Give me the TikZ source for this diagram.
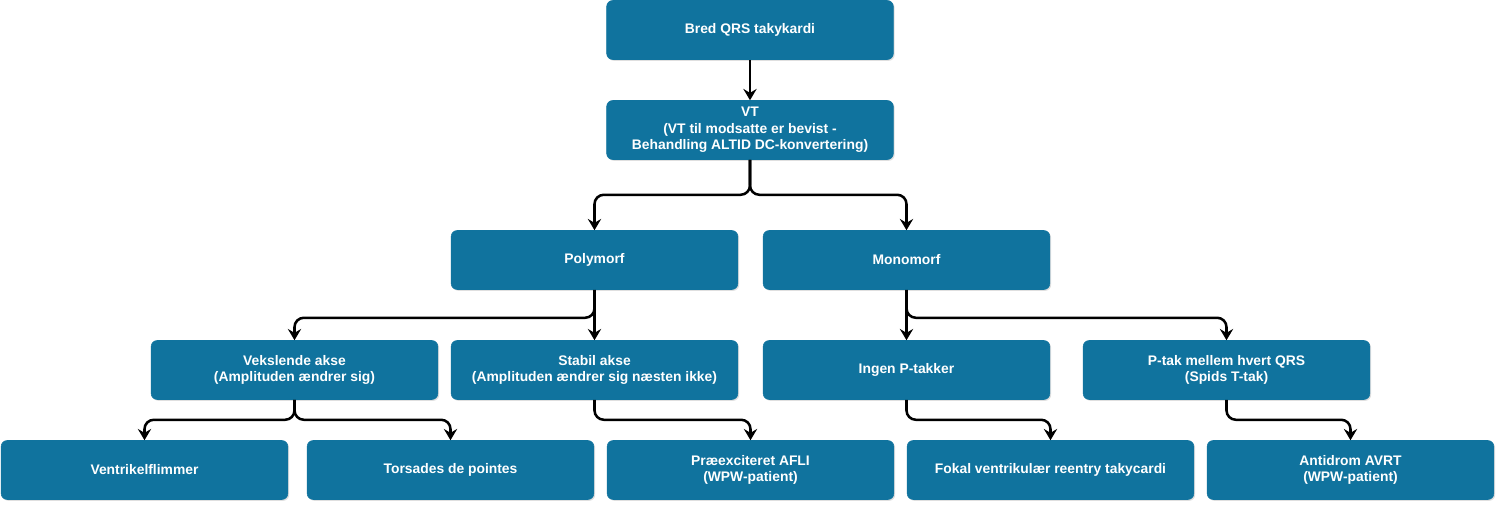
\documentclass[tikz,border=0pt]{standalone}
\usepackage{fontspec}
\setmainfont{Liberation Sans}
\usetikzlibrary{arrows.meta,positioning,shadows}

\begin{document}
\begin{tikzpicture}[x=0.75pt,y=-0.75pt,
  box/.style={rectangle,rounded corners=4.5pt,draw=boxblue,fill=boxblue,
              text=white,font=\fontsize{10.4}{12.5}\selectfont\bfseries,align=center,
              minimum width=215pt,minimum height=44.25pt,inner sep=2pt,
              drop shadow={shadow xshift=1pt,shadow yshift=-1pt,opacity=0.25}},
  link/.style={-{Stealth[length=8.5pt,width=10pt,inset=3pt]},line width=1.9pt,
               rounded corners=7pt},
]
  \definecolor{boxblue}{HTML}{10739E}
  \useasboundingbox (0,0) rectangle (1497,504);

  % Top levels
  \node[box] (bred) at (750,30)  {Bred QRS takykardi};
  \node[box] (vt)   at (750,130) {VT\\(VT til modsatte er bevist -\\Behandling ALTID DC-konvertering)};

  % Polymorf / Monomorf
  \node[box] (poly) at (594.5,260) {Polymorf};
  \node[box] (mono) at (906.5,260) {Monomorf};

  % Third row
  \node[box] (veks)  at (294.5,370)  {Vekslende akse\\(Amplituden ændrer sig)};
  \node[box] (stab)  at (594.5,370)  {Stabil akse\\(Amplituden ændrer sig næsten ikke)};
  \node[box] (ingen) at (906.5,370)  {Ingen P-takker};
  \node[box] (ptak)  at (1226.5,370) {P-tak mellem hvert QRS\\(Spids T-tak)};

  % Bottom row
  \node[box] (vf)    at (144.5,470)  {Ventrikelflimmer};
  \node[box] (tdp)   at (450.5,470)  {Torsades de pointes};
  \node[box] (afli)  at (750.5,470)  {Præexciteret AFLI\\(WPW-patient)};
  \node[box] (fokal) at (1050.5,470) {Fokal ventrikulær reentry takycardi};
  \node[box] (avrt)  at (1350.5,470) {Antidrom AVRT\\(WPW-patient)};

  % Connectors
  \draw[link] (bred) -- (vt);
  \draw[link] (vt.south) -- ++(0,35) -| (poly.north);
  \draw[link] (vt.south) -- ++(0,35) -| (mono.north);

  \draw[link] (poly.south) -- ++(0,28) -| (veks.north);
  \draw[link] (poly.south) -- (stab.north);
  \draw[link] (mono.south) -- (ingen.north);
  \draw[link] (mono.south) -- ++(0,28) -| (ptak.north);

  \draw[link] (veks.south) -- ++(0,20) -| (vf.north);
  \draw[link] (veks.south) -- ++(0,20) -| (tdp.north);
  \draw[link] (stab.south) -- ++(0,20) -| (afli.north);
  \draw[link] (ingen.south) -- ++(0,20) -| (fokal.north);
  \draw[link] (ptak.south) -- ++(0,20) -| (avrt.north);
\end{tikzpicture}
\end{document}
